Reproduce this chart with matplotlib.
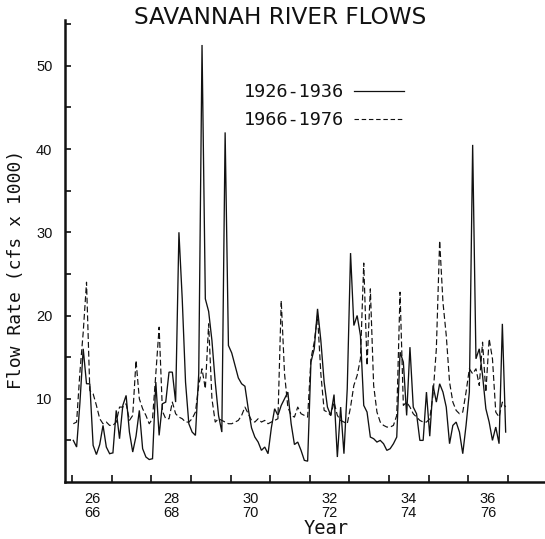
import numpy as np
import matplotlib.pyplot as plt
from matplotlib.lines import Line2D

plt.rcParams['font.family'] = ['Liberation Sans', 'DejaVu Sans']

# Monthly Savannah River flow, thousands of cfs
flow_1926_1936 = [
    5.0, 4.2, 9.5, 16.0, 11.8, 11.8, 4.4, 3.3, 4.5, 6.8, 4.2, 3.4,
    3.5, 8.6, 5.2, 9.2, 10.4, 6.0, 3.6, 5.5, 8.6, 4.0, 3.0, 2.7,
    2.8, 12.0, 5.6, 9.4, 9.6, 13.2, 13.2, 9.6, 30.0, 22.0, 12.0, 7.0,
    6.0, 5.6, 13.0, 52.5, 22.0, 20.5, 17.0, 12.0, 8.0, 6.0, 42.0, 16.4,
    15.5, 14.0, 12.5, 11.8, 11.5, 8.8, 6.5, 5.4, 4.8, 3.8, 4.2, 3.4,
    6.5, 8.8, 8.0, 9.2, 10.0, 10.8, 7.0, 4.5, 4.8, 3.8, 2.6, 2.5,
    14.4, 16.0, 20.8, 17.0, 12.0, 9.0, 8.0, 10.5, 3.0, 9.0, 3.4, 11.2,
    27.5, 18.8, 20.0, 17.6, 9.2, 8.4, 5.4, 5.2, 4.8, 5.0, 4.6, 3.8,
    4.0, 4.6, 5.4, 15.6, 14.4, 8.0, 16.2, 9.0, 8.2, 5.0, 5.0, 10.8,
    5.5, 11.6, 9.6, 11.8, 10.8, 9.0, 4.6, 6.8, 7.2, 6.0, 3.4, 6.8,
    10.8, 40.5, 14.8, 16.0, 12.8, 8.8, 7.2, 5.0, 6.6, 4.6, 19.0, 6.0,
]
flow_1966_1976 = [
    7.0, 7.2, 13.2, 18.0, 24.0, 11.0, 10.6, 9.2, 7.6, 7.0, 7.2, 6.8,
    6.8, 7.2, 9.0, 9.0, 9.4, 7.4, 8.0, 14.6, 10.0, 8.8, 8.0, 7.0,
    7.6, 13.0, 18.6, 8.5, 7.6, 7.6, 9.6, 8.2, 7.8, 7.6, 7.2, 7.2,
    7.6, 8.4, 11.6, 13.6, 11.2, 19.0, 10.0, 7.2, 7.6, 7.4, 7.2, 7.0,
    7.0, 7.2, 7.4, 8.0, 9.0, 8.2, 7.4, 7.2, 7.6, 7.2, 7.4, 7.0,
    7.2, 7.4, 7.6, 21.8, 13.0, 9.0, 8.0, 7.8, 9.0, 8.2, 8.0, 7.8,
    14.8, 16.8, 20.0, 13.0, 8.6, 8.4, 8.0, 9.6, 8.0, 7.4, 7.2, 7.0,
    9.0, 11.6, 12.8, 14.8, 26.3, 14.0, 23.2, 11.6, 8.4, 7.2, 6.8, 6.6,
    6.6, 6.8, 8.0, 22.8, 9.2, 9.6, 9.0, 8.2, 7.8, 7.4, 7.2, 7.2,
    7.6, 10.5, 16.0, 29.0, 21.6, 17.6, 12.0, 9.6, 8.6, 8.2, 8.4, 10.8,
    13.6, 13.0, 13.6, 11.6, 16.8, 10.8, 17.2, 14.8, 8.4, 7.8, 9.6, 9.0,
]
period_labels = ['1926-1936', '1966-1976']
early_years = ['26', '28', '30', '32', '34', '36']
late_years = ['66', '68', '70', '72', '74', '76']

ink = '#111111'
mono = ['DejaVu Sans Mono']
W, H = 545, 539

months = np.arange(len(flow_1926_1936))
x = 1926.03 + months / 12.0

fig = plt.figure(figsize=(W / 100, H / 100), dpi=100)
ax = fig.add_axes([65 / W, 57 / H, 480 / W, 462 / H])

ax.plot(x, flow_1926_1936, color=ink, lw=0.95, solid_joinstyle='miter')
ax.plot(x, flow_1966_1976, color=ink, lw=0.85, dashes=(5, 2.5))

ax.set_xlim(1925.82, 1937.94)
ax.set_ylim(0, 55.5)

for side in ('top', 'right'):
    ax.spines[side].set_visible(False)
for side in ('left', 'bottom'):
    ax.spines[side].set_linewidth(1.8)
    ax.spines[side].set_color(ink)

# y ticks every 5, labels every 10
yt = np.arange(5, 56, 5)
ax.set_yticks(yt)
ax.set_yticklabels([str(v) if v % 10 == 0 else '' for v in yt])
ax.tick_params(axis='y', direction='in', length=4, width=1.2, pad=9,
               labelsize=10.5, colors=ink)

# year boundary ticks, two-line labels centred on the year
ax.set_xticks(np.arange(1926, 1938))
ax.set_xticklabels([])
ax.set_xticks(np.arange(1926.5, 1937, 2), minor=True)
ax.set_xticklabels([f'{a}\n{b}' for a, b in zip(early_years, late_years)],
                   minor=True)
ax.tick_params(axis='x', which='major', direction='in', length=5, width=1.2,
               colors=ink)
ax.tick_params(axis='x', which='minor', length=0, pad=7, labelsize=10.5,
               colors=ink)
for t in ax.get_xticklabels(minor=True):
    t.set_linespacing(1.05)

ax.set_ylabel('Flow Rate (cfs x 1000)', fontsize=13, color=ink,
              family=mono)
ax.yaxis.set_label_coords((25 - 65) / 480, (483 - 270) / 462)
fig.text(326 / W, 1 - 528 / H, 'Year', fontsize=13.5, ha='center',
         va='center', color=ink, family=mono)
fig.text(280 / W, 1 - 18 / H, 'SAVANNAH RIVER FLOWS', fontsize=16.7,
         ha='center', va='center', color=ink, family=['DejaVu Sans'])

handles = [Line2D([], [], color=ink, lw=0.9),
           Line2D([], [], color=ink, lw=0.8, dashes=(4, 2.5))]
leg = ax.legend(handles, period_labels, markerfirst=False, frameon=False,
                loc='upper left', bbox_to_anchor=(244 / W, 1 - 83 / H),
                bbox_transform=fig.transFigure, borderpad=0, borderaxespad=0,
                handlelength=2.7, handletextpad=0.55, labelspacing=0.55,
                prop={'family': mono, 'size': 13.3}, labelcolor=ink)

fig.savefig('out.png', dpi=100, facecolor='white')
